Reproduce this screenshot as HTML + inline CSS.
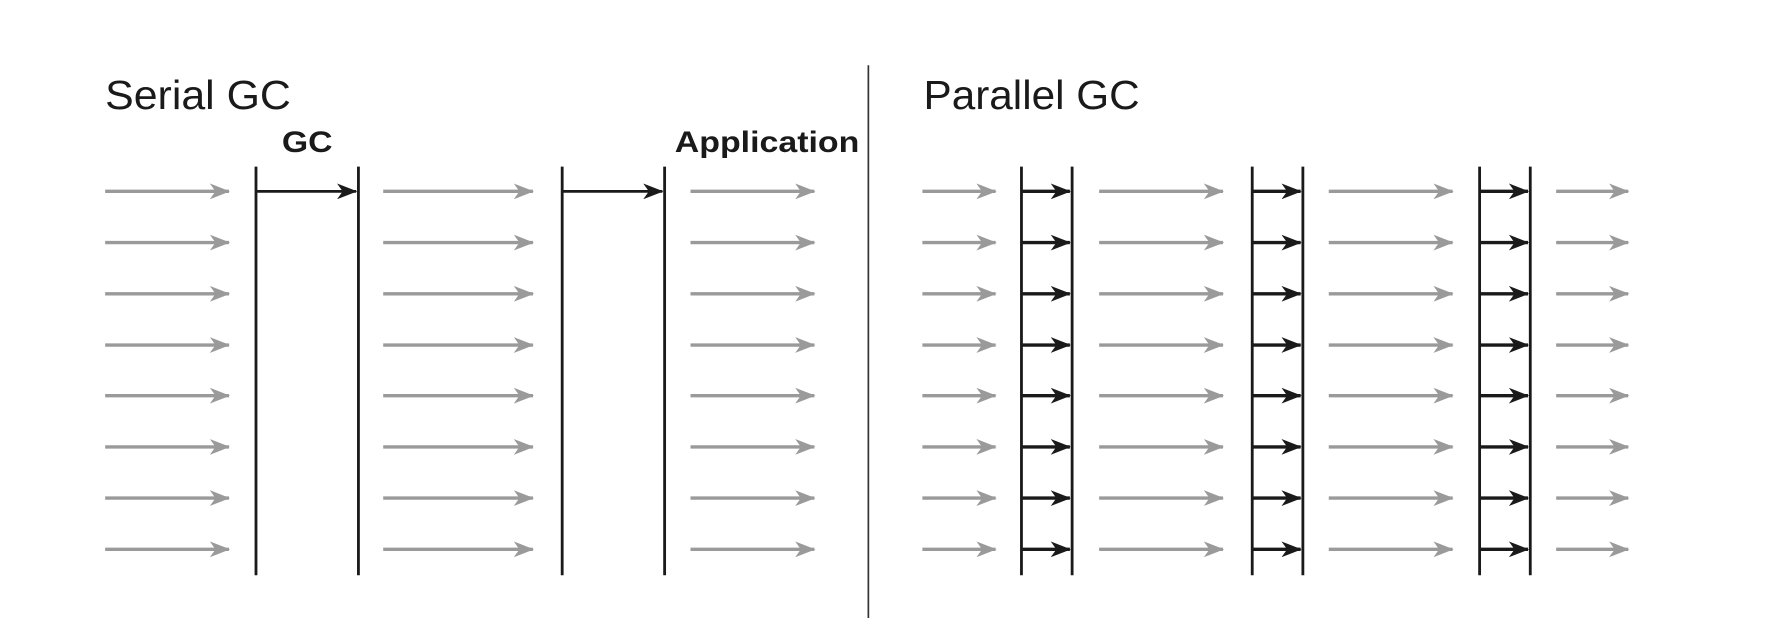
<!DOCTYPE html>
<html><head><style>html,body{margin:0;padding:0;background:#fff}svg{display:block}</style></head>
<body>
<svg width="1766" height="618" viewBox="0 0 1568 549" xmlns="http://www.w3.org/2000/svg" font-family="Liberation Sans, sans-serif">
<defs>
<marker id="gb" markerWidth="18" markerHeight="14" refX="17" refY="7" orient="auto" markerUnits="userSpaceOnUse"><path d="M0,0 L18,7 L0,14 L5,7 Z" fill="#9a9a9a"/></marker>
<marker id="kb" markerWidth="18" markerHeight="14" refX="17" refY="7" orient="auto" markerUnits="userSpaceOnUse"><path d="M0,0 L18,7 L0,14 L5,7 Z" fill="#1a1a1a"/></marker>
<g id="row">
<g stroke="#9a9a9a" stroke-width="3" marker-end="url(#gb)">
<line x1="93" y1="0" x2="203" y2="0" marker-end="url(#gb)"/>
<line x1="340" y1="0" x2="473" y2="0" marker-end="url(#gb)"/>
<line x1="613" y1="0" x2="723" y2="0" marker-end="url(#gb)"/>
<line x1="819" y1="0" x2="884" y2="0" marker-end="url(#gb)"/>
<line x1="976" y1="0" x2="1086" y2="0" marker-end="url(#gb)"/>
<line x1="1180" y1="0" x2="1290" y2="0" marker-end="url(#gb)"/>
<line x1="1382" y1="0" x2="1446" y2="0" marker-end="url(#gb)"/>
</g>
<g stroke="#1a1a1a" stroke-width="3">
<line x1="908" y1="0" x2="950" y2="0" marker-end="url(#kb)"/>
<line x1="1113" y1="0" x2="1155" y2="0" marker-end="url(#kb)"/>
<line x1="1315" y1="0" x2="1357" y2="0" marker-end="url(#kb)"/>
</g>
</g>
</defs>
<text x="93" y="97" font-size="36" fill="#1a1a1a" textLength="165" lengthAdjust="spacingAndGlyphs">Serial GC</text>
<text x="820" y="97" font-size="36" fill="#1a1a1a" textLength="192" lengthAdjust="spacingAndGlyphs">Parallel GC</text>
<text x="250" y="135" font-size="26" font-weight="bold" fill="#1a1a1a" textLength="45" lengthAdjust="spacingAndGlyphs">GC</text>
<text x="599" y="135" font-size="26" font-weight="bold" fill="#1a1a1a" textLength="164" lengthAdjust="spacingAndGlyphs">Application</text>
<line x1="771" y1="58" x2="771" y2="549" stroke="#333" stroke-width="1.5"/>
<g stroke="#1a1a1a" stroke-width="2.5">
<line x1="227" y1="148" x2="227" y2="511"/><line x1="318" y1="148" x2="318" y2="511"/>
<line x1="499" y1="148" x2="499" y2="511"/><line x1="590" y1="148" x2="590" y2="511"/>
<line x1="907" y1="148" x2="907" y2="511"/><line x1="952" y1="148" x2="952" y2="511"/>
<line x1="1112" y1="148" x2="1112" y2="511"/><line x1="1157" y1="148" x2="1157" y2="511"/>
<line x1="1314" y1="148" x2="1314" y2="511"/><line x1="1359" y1="148" x2="1359" y2="511"/>
<line x1="228" y1="170" x2="316" y2="170" marker-end="url(#kb)"/>
<line x1="500" y1="170" x2="588" y2="170" marker-end="url(#kb)"/>
</g>
<use href="#row" transform="translate(0,170)"/>
<use href="#row" transform="translate(0,215.5)"/>
<use href="#row" transform="translate(0,261)"/>
<use href="#row" transform="translate(0,306.5)"/>
<use href="#row" transform="translate(0,351.5)"/>
<use href="#row" transform="translate(0,397)"/>
<use href="#row" transform="translate(0,442.5)"/>
<use href="#row" transform="translate(0,488)"/>
</svg>
</body></html>
